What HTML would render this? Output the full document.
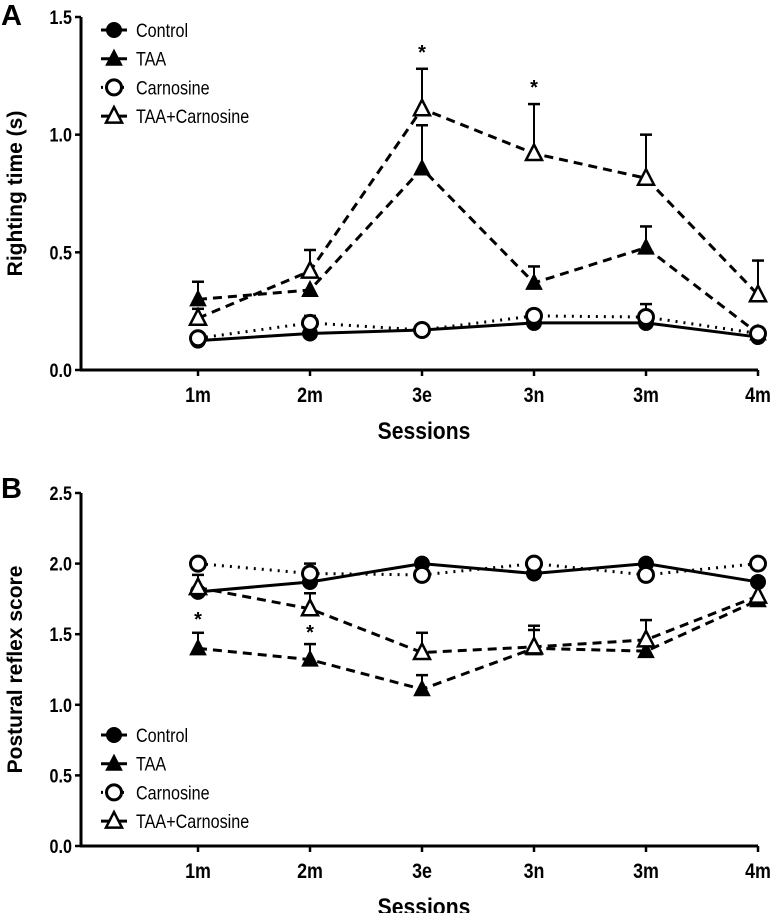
<!DOCTYPE html>
<html><head><meta charset="utf-8"><style>
html,body{margin:0;padding:0;background:#fff;width:773px;height:913px;overflow:hidden}
svg{display:block}
text{font-family:"Liberation Sans",Arial,sans-serif;fill:#000}
</style></head><body>
<svg id="chart" width="773" height="913" viewBox="0 0 773 913" xmlns="http://www.w3.org/2000/svg"></svg>
<script>
const categories = ["1m","2m","3e","3n","3m","4m"];
const seriesNames = ["Control","TAA","Carnosine","TAA+Carnosine"];
const aControl = [0.125,0.155,0.17,0.20,0.20,0.14];
const aTAA = [0.30,0.34,0.856,0.37,0.52,0.155];
const aCarn = [0.135,0.20,0.17,0.23,0.225,0.155];
const aTAAC = [0.22,0.42,1.11,0.92,0.815,0.32];
const aErrTAA = [0.375,null,1.04,0.44,0.61,null];
const aErrCarn = [null,0.23,null,0.255,0.28,null];
const aErrTAAC = [0.26,0.51,1.28,1.13,1.0,0.465];
const aTicks = ["0.0","0.5","1.0","1.5"];
const aStars = [2,3];
const bControl = [1.80,1.87,2.0,1.93,2.0,1.87];
const bTAA = [1.40,1.32,1.11,1.40,1.38,1.74];
const bCarn = [2.0,1.93,1.92,2.0,1.92,2.0];
const bTAAC = [1.83,1.68,1.37,1.41,1.46,1.77];
const bErrTAA = [1.51,1.43,1.21,1.56,null,null];
const bErrCarn = [null,2.0,null,null,null,null];
const bErrTAAC = [1.92,1.79,1.51,1.53,1.60,null];
const bTicks = ["0.0","0.5","1.0","1.5","2.0","2.5"];
const bStars = [0,1];

const NS="http://www.w3.org/2000/svg";
const svg=document.getElementById('chart');
function mk(tag,attrs,parent){const e=document.createElementNS(NS,tag);for(const k in attrs)e.setAttribute(k,attrs[k]);(parent||svg).appendChild(e);return e;}
function txt(s,attrs,parent){const e=mk('text',attrs,parent);e.textContent=s;return e;}

function panel(cfg){
  const g=mk('g',{});
  
  
  const X0=81,X1=758,xFirst=198,xStep=112;
  const xs=i=>xFirst+i*xStep;
  const ys=v=>cfg.y0-(v/cfg.ymax)*(cfg.y0-cfg.yTop);
  const ya=mk('line',{x1:X0,y1:cfg.yTop,x2:X0,y2:cfg.y0+1,stroke:'#000','stroke-width':3},g);
  
  const xa=mk('line',{x1:X0-1,y1:cfg.y0,x2:X1,y2:cfg.y0,stroke:'#000','stroke-width':3},g);
  
  cfg.ticks.forEach((t,i)=>{
    const v=parseFloat(t),y=ys(v);
    mk('line',{x1:X0-6,y1:y,x2:X0,y2:y,stroke:'#000','stroke-width':2.5},g);
    const tl=txt(t,{x:X0-9,y:y+7,'text-anchor':'end','font-size':19,'font-weight':'bold',transform:`translate(${X0-9},0) scale(0.85,1) translate(${-(X0-9)},0)`},g);
    
  });
  categories.forEach((c,i)=>{
    const x=xs(i);
    mk('line',{x1:x,y1:cfg.y0,x2:x,y2:cfg.y0+6,stroke:'#000','stroke-width':2.5},g);
    const tl=txt(c,{x:x,y:cfg.y0+32,'text-anchor':'middle','font-size':21,'font-weight':'bold',transform:`translate(${x},0) scale(0.85,1) translate(${-x},0)`},g);
    
  });
  const xt=txt('Sessions',{x:424,y:cfg.y0+69,'text-anchor':'middle','font-size':24,'font-weight':'bold',transform:'translate(424,0) scale(0.88,1) translate(-424,0)'},g);
  
  const cy=(cfg.y0+cfg.yTop)/2;
  const yt=txt(cfg.ytitle,{x:0,y:0,'text-anchor':'middle','font-size':21,'font-weight':'bold',transform:`translate(22,${cy}) rotate(-90)`},g);
  
  const pl=txt(cfg.letter,{x:1,y:cfg.letterY,'font-size':29,'font-weight':'bold'},g);
  

  const styles=[
    {dash:'',marker:'circle',fill:'#000'},
    {dash:'9,6',marker:'tri',fill:'#000'},
    {dash:'2,6',marker:'circle',fill:'#fff'},
    {dash:'9,6',marker:'tri',fill:'#fff'}];
  const errs=[null,cfg.errs[0],cfg.errs[1],cfg.errs[2]];
  cfg.series.forEach((vals,si)=>{
    const e=errs[si]; if(!e) return;
    e.forEach((ev,i)=>{
      if(ev==null) return;
      const x=xs(i);
      const eg=mk('g',{},g);
      
      mk('line',{x1:x,y1:ys(vals[i]),x2:x,y2:ys(ev),stroke:'#000','stroke-width':2},eg);
      mk('line',{x1:x-6,y1:ys(ev),x2:x+6,y2:ys(ev),stroke:'#000','stroke-width':2.5},eg);
    });
  });
  function marker(type,fill,x,y,parent){
    if(type==='circle') return mk('circle',{cx:x,cy:y,r:7.5,fill:fill,stroke:'#000','stroke-width':fill==='#fff'?3:1},parent);
    return mk('polygon',{points:`${x},${y-9} ${x-8},${y+6.5} ${x+8},${y+6.5}`,fill:fill,stroke:'#000','stroke-width':fill==='#fff'?2.5:1},parent);
  }
  cfg.series.forEach((vals,si)=>{
    const st=styles[si];
    const sg=mk('g',{},g);
    
    
    const pts=vals.map((v,i)=>xs(i)+','+ys(v)).join(' ');
    const ln=mk('polyline',{points:pts,fill:'none',stroke:'#000','stroke-width':3,'stroke-dasharray':st.dash},sg);
    
    vals.forEach((v,i)=>{
      const m=marker(st.marker,st.fill,xs(i),ys(v),sg);
      
    });
  });
  cfg.stars.forEach(i=>{
    const top=Math.max(...cfg.series.map((s,si)=>errs[si]&&errs[si][i]!=null?errs[si][i]:s[i]));
    const st=txt('*',{x:xs(i),y:cfg.starAbove?ys(top)-10:cfg.starY[i],'text-anchor':'middle','font-size':20,'font-weight':'bold'},g);
    
  });
  const lg=mk('g',{},g);
  
  seriesNames.forEach((n,i)=>{
    const y=cfg.legY+i*28.7;
    const eg=mk('g',{},lg);
    
    mk('line',{x1:101,y1:y,x2:127,y2:y,stroke:'#000','stroke-width':3,'stroke-dasharray':i===2?'2,5':''},eg);
    marker(styles[i].marker,styles[i].fill,114,y,eg);
    txt(n,{x:136,y:y+7,'font-size':19,transform:'translate(136,0) scale(0.85,1) translate(-136,0)'},eg);
  });
}
panel({name:'panel-a-righting-time',y0:370,yTop:17,ymax:1.5,ticks:aTicks,ytitle:'Righting time (s)',letter:'A',letterY:25,
  series:[aControl,aTAA,aCarn,aTAAC],errs:[aErrTAA,aErrCarn,aErrTAAC],stars:aStars,starAbove:true,legY:30});
panel({name:'panel-b-postural-reflex',y0:846,yTop:493,ymax:2.5,ticks:bTicks,ytitle:'Postural reflex score',letter:'B',letterY:498,
  series:[bControl,bTAA,bCarn,bTAAC],errs:[bErrTAA,bErrCarn,bErrTAAC],stars:bStars,starAbove:false,starY:{0:626,1:639},legY:735});
</script>
</body></html>
